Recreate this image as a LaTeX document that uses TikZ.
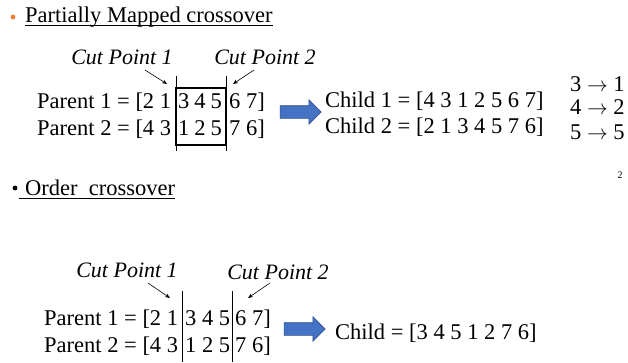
\documentclass[tikz,border=0pt]{standalone}
\usepackage{fontspec}
\setmainfont{Liberation Serif}
\usetikzlibrary{arrows.meta,shapes.arrows}
\definecolor{arrowblue}{RGB}{68,114,196}
\definecolor{arrowedge}{RGB}{47,82,143}
\definecolor{dotorange}{RGB}{237,125,49}
\tikzset{
	txt/.style={inner sep=0pt, anchor=base west, font=\fontsize{22.5}{26}\selectfont},
	cutlabel/.style={inner sep=0pt, font=\fontsize{22}{26}\selectfont\itshape},
	pointer/.style={-{Stealth[length=5pt,width=4pt]}, line width=0.6pt},
	bluearrow/.style={single arrow, fill=arrowblue, draw=arrowedge, line width=0.6pt,
		minimum height=41pt, minimum width=24pt, inner sep=6pt,
		single arrow head extend=6pt}
}
\newcommand{\gap}{\hspace{5pt}}
\begin{document}
\begin{tikzpicture}[x=1pt,y=-1pt]
			\useasboundingbox (0,0) rectangle (628,362);
			% 标题 1
			\fill[dotorange] (13,17) circle (2.4);
			\node[txt] (pmx) at (25,22) {Partially Mapped crossover};
			\draw[line width=1pt] ([yshift=-3pt]pmx.base west) -- ([yshift=-3pt]pmx.base east);
			
			% 切点标签
			\node[cutlabel] (pc1) at (122,57) {Cut Point 1};
			\node[cutlabel] (pc2) at (265,57) {Cut Point 2};
			\coordinate (pt1) at (167,84);
			\coordinate (pt2) at (233,84);
			\draw[pointer] (145,70) -- (pt1);
			\draw[pointer] (254,70) -- (pt2);
			
			% 切线和方框
			\draw[line width=0.6pt] (176,76) -- (176,151);
			\draw[line width=0.6pt] (226,76) -- (226,151);
			\draw[line width=1.8pt] (176,88) rectangle (226,145);
			
			% 父代
			\node[txt] (p1a) at (37,108) {Parent 1 = [2 1};
			\node[txt] (p1b) at (178,108) {3\gap4\gap5};
			\node[txt] (p1c) at (229,108) {6 7]};
			\node[txt] (p2a) at (37,135) {Parent 2 = [4 3};
			\node[txt] (p2b) at (178,135) {1\gap2\gap5};
			\node[txt] (p2c) at (229,135) {7 6]};
			
			% 箭头和子代
			\node[bluearrow] (pmxarrow) at (297.5,112) {};
			\node[txt] (ch1) at (325,107) {Child 1 = [4 3 1 2 5 6 7]};
			\node[txt] (ch2) at (325,133) {Child 2 = [2 1 3 4 5 7 6]};
			
			% 映射关系
			\node[txt] (m1) at (570,91) {3 $\rightarrow$ 1};
			\node[txt] (m2) at (570,114) {4 $\rightarrow$ 2};
			\node[txt] (m3) at (570,139) {5 $\rightarrow$ 5};
			\node[inner sep=0pt, font=\fontsize{10}{11}\selectfont] (pgnum) at (620,175) {2};
			
			% 标题 2
			\fill (15,188) circle (2.4);
			\node[txt] (ox) at (25,195) {Order\ \ crossover};
			\draw[line width=1pt] (19,198.5) -- ([yshift=-3.5pt]ox.base east);
			
			% 切点标签
			\node[cutlabel] (oc1) at (127,270) {Cut Point 1};
			\node[cutlabel] (oc2) at (278,272) {Cut Point 2};
			\coordinate (ot1) at (170,298);
			\coordinate (ot2) at (248,298);
			\draw[pointer] (148,283) -- (ot1);
			\draw[pointer] (270,283) -- (ot2);
			
			% 切线
			\draw[line width=0.6pt] (182,291) -- (182,362);
			\draw[line width=0.6pt] (232,291) -- (232,362);
			
			% 父代
			\node[txt] (q1a) at (44,325) {Parent 1 = [2 1};
			\node[txt] (q1b) at (185,325) {3 4 5};
			\node[txt] (q1c) at (235,325) {6 7]};
			\node[txt] (q2a) at (44,352) {Parent 2 = [4 3};
			\node[txt] (q2b) at (185,352) {1 2 5};
			\node[txt] (q2c) at (235,352) {7 6]};
			
			% 箭头和子代
			\node[bluearrow] (oxarrow) at (301.5,329) {};
			\node[txt] (och) at (335,339) {Child = [3 4 5 1 2 7 6]};
		\end{tikzpicture}
\end{document}
